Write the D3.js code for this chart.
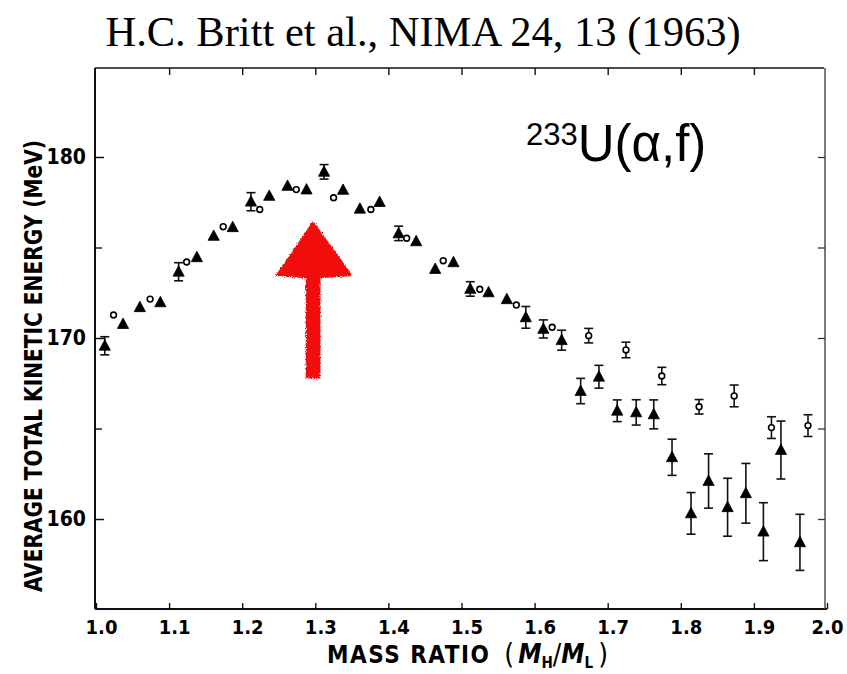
<!DOCTYPE html>
<html>
<head>
<meta charset="utf-8">
<script src="https://cdn.jsdelivr.net/npm/d3@7"></script>
<style>
  html, body { margin: 0; padding: 0; background: #fff; }
  svg { display: block; }
  .tick text { font-family: "DejaVu Sans Condensed", "DejaVu Sans", sans-serif; font-weight: bold; font-stretch: condensed; }
</style>
</head>
<body>
<script>
// Average total kinetic energy of fission fragments vs. mass ratio, 233U(alpha,f)

// Filled triangles
const triRatio  = [1.012, 1.037, 1.060, 1.088, 1.113, 1.138, 1.161, 1.187, 1.212, 1.237,
                   1.262, 1.288, 1.312, 1.338, 1.361, 1.388, 1.414, 1.438, 1.464, 1.489,
                   1.512, 1.537, 1.562, 1.588, 1.612, 1.637, 1.663, 1.688, 1.713, 1.739,
                   1.763, 1.788, 1.814, 1.838, 1.864, 1.889, 1.913, 1.937, 1.963];
const triEnergy = [169.57, 170.77, 171.70, 171.97, 173.66, 174.46, 175.64, 176.12, 177.53, 177.85,
                   178.40, 178.20, 179.18, 178.18, 177.14, 177.51, 175.78, 175.34, 173.81, 174.18,
                   172.71, 172.52, 172.14, 171.14, 170.50, 169.88, 167.07, 167.86, 165.98, 165.89,
                   165.78, 163.41, 160.31, 162.10, 160.65, 161.42, 159.30, 163.81, 158.71];
const triError  = [0.5, 0, 0, 0, 0.5, 0, 0, 0, 0.5, 0,
                   0, 0, 0.4, 0, 0, 0, 0.4, 0, 0, 0,
                   0.4, 0, 0, 0.6, 0.5, 0.55, 0.7, 0.63, 0.6, 0.7,
                   0.8, 1.0, 1.15, 1.5, 1.6, 1.65, 1.6, 1.6, 1.55];

// Open circles
const circRatio  = [1.024, 1.074, 1.124, 1.174, 1.224, 1.274, 1.325, 1.376, 1.425, 1.475,
                    1.525, 1.575, 1.624, 1.674, 1.725, 1.774, 1.825, 1.873, 1.924, 1.974];
const circEnergy = [171.27, 172.15, 174.20, 176.15, 177.10, 178.20, 177.75, 177.10, 175.51, 174.27,
                    172.69, 171.82, 170.59, 170.13, 169.34, 167.90, 166.20, 166.80, 165.05, 165.16];
const circError  = [0, 0, 0, 0, 0, 0, 0, 0, 0, 0,
                    0, 0, 0, 0.4, 0.43, 0.48, 0.4, 0.6, 0.6, 0.6];

// Axis ticks
const xTickValues = [1.0, 1.1, 1.2, 1.3, 1.4, 1.5, 1.6, 1.7, 1.8, 1.9, 2.0];
const yMajorTicks = [160, 170, 180];
const yMinorTicks = [165, 175];

// Arrow annotation in data units (tip, head base, shaft end)
const arrowRatio = 1.297;
const arrowEnergy = [176.4, 173.4, 167.8];

const W = 847, H = 674;
const svg = d3.select("body").append("svg").attr("width", W).attr("height", H);

const x = d3.scaleLinear().domain([1.0, 2.0]).range([96, 827]);
const y = d3.scaleLinear().domain([155, 185]).range([609.5, 66.5]);

const frameTop = 68, frameBottom = 609, frameLeft = 95, frameRight = 827;
const ink = "#111";
const condensed = "'DejaVu Sans Condensed', 'DejaVu Sans', sans-serif";

// Title
svg.append("text")
  .attr("x", 423).attr("y", 46)
  .attr("text-anchor", "middle")
  .attr("font-family", "'Liberation Serif', 'Times New Roman', serif")
  .attr("font-size", 42.5)
  .attr("fill", "#000")
  .text("H.C. Britt et al., NIMA 24, 13 (1963)");

// Frame
const frame = svg.append("g").attr("stroke", ink).attr("fill", "none");
frame.append("line").attr("x1", frameLeft).attr("x2", frameLeft).attr("y1", frameTop).attr("y2", frameBottom).attr("stroke-width", 2);
frame.append("line").attr("x1", frameLeft).attr("x2", frameRight).attr("y1", frameBottom).attr("y2", frameBottom).attr("stroke-width", 2);
frame.append("line").attr("x1", frameLeft).attr("x2", frameRight - 3).attr("y1", frameTop).attr("y2", frameTop).attr("stroke-width", 1.6);
frame.append("line").attr("x1", frameRight - 2).attr("x2", frameRight - 2).attr("y1", frameTop).attr("y2", frameBottom)
  .attr("stroke-width", 1.4).attr("stroke", "#444");

// Bottom axis, ticks pointing inward
const xAxis = d3.axisBottom(x).tickValues(xTickValues).tickSize(-6).tickPadding(0).tickFormat(d3.format(".1f"));
const gx = svg.append("g").attr("transform", `translate(0,${frameBottom})`).call(xAxis);
gx.select(".domain").remove();
gx.selectAll(".tick line").attr("stroke", ink).attr("stroke-width", 1.4);
gx.selectAll(".tick text").attr("font-size", 20).attr("fill", "#000")
  .attr("y", 25).attr("dy", 0)
  .attr("dx", d => d === 2.0 ? 0 : 5);

// Top axis ticks
const xTop = d3.axisTop(x).tickValues(xTickValues.slice(1, -1)).tickSize(-7).tickFormat("");
const gxt = svg.append("g").attr("transform", `translate(0,${frameTop})`).call(xTop);
gxt.select(".domain").remove();
gxt.selectAll(".tick line").attr("stroke", ink).attr("stroke-width", 1.4);

// Left axis, labelled major ticks plus minor ticks
const yAxis = d3.axisLeft(y).tickValues(yMajorTicks).tickSize(-9).tickFormat(d3.format("d"));
const gy = svg.append("g").attr("transform", `translate(${frameLeft},0)`).call(yAxis);
gy.select(".domain").remove();
gy.selectAll(".tick line").attr("stroke", ink).attr("stroke-width", 1.5);
gy.selectAll(".tick text").attr("font-size", 21).attr("fill", "#000").attr("x", -9);
const gyMinor = svg.append("g").attr("transform", `translate(${frameLeft},0)`)
  .call(d3.axisLeft(y).tickValues(yMinorTicks).tickSize(-7).tickFormat(""));
gyMinor.select(".domain").remove();
gyMinor.selectAll(".tick line").attr("stroke", ink).attr("stroke-width", 1.4);

// Right axis ticks
const gyr = svg.append("g").attr("transform", `translate(${frameRight - 2},0)`)
  .call(d3.axisRight(y).tickValues(yMajorTicks.concat(yMinorTicks)).tickSize(-7).tickFormat(""));
gyr.select(".domain").remove();
gyr.selectAll(".tick line").attr("stroke", "#333").attr("stroke-width", 1.3);

// Axis titles
svg.append("text")
  .attr("transform", "translate(42,366) rotate(-90)")
  .attr("text-anchor", "middle")
  .attr("font-family", condensed)
  .attr("font-weight", "bold")
  .attr("font-size", 24)
  .attr("textLength", 452).attr("lengthAdjust", "spacingAndGlyphs")
  .attr("fill", "#000")
  .text("AVERAGE TOTAL KINETIC ENERGY (MeV)");

const xt = svg.append("text")
  .attr("x", 327).attr("y", 663)
  .attr("font-family", condensed)
  .attr("font-weight", "bold")
  .attr("font-size", 24)
  .attr("fill", "#000");
xt.append("tspan").attr("letter-spacing", 1.5).text("MASS RATIO ");
xt.append("tspan").attr("font-size", 28).attr("font-weight", "normal").attr("dy", 1).attr("dx", 5).text("(");
xt.append("tspan").attr("font-style", "italic").attr("font-size", 26).attr("dy", -1).attr("dx", 4).text("M");
xt.append("tspan").attr("font-size", 15).attr("dy", 5).text("H");
xt.append("tspan").attr("font-size", 28).attr("font-weight", "normal").attr("dy", -4).text("/");
xt.append("tspan").attr("font-style", "italic").attr("font-size", 26).attr("dy", -1).text("M");
xt.append("tspan").attr("font-size", 15).attr("dy", 5).text("L");
xt.append("tspan").attr("font-size", 28).attr("font-weight", "normal").attr("dy", -4).attr("dx", 5).text(")");

// Reaction label
const rl = svg.append("text")
  .attr("x", 526).attr("y", 161)
  .attr("font-family", "'Liberation Sans', Arial, Helvetica, sans-serif")
  .attr("fill", "#000");
rl.append("tspan").attr("font-size", 31).attr("dy", -16).text("233");
rl.append("tspan").attr("font-size", 51).attr("dy", 16).text("U(\u03b1,f)");

// Data: error bars, triangles, circles
const tri = triRatio.map((r, i) => ({ r, e: triEnergy[i], err: triError[i] }));
const circ = circRatio.map((r, i) => ({ r, e: circEnergy[i], err: circError[i] }));

function errorBars(data, cls) {
  const g = svg.append("g").attr("class", cls).attr("stroke", ink).attr("stroke-width", 1.6);
  const withErr = data.filter(d => d.err > 0);
  g.selectAll("line.v").data(withErr).join("line").attr("class", "v")
    .attr("x1", d => x(d.r)).attr("x2", d => x(d.r))
    .attr("y1", d => y(d.e + d.err)).attr("y2", d => y(d.e - d.err));
  g.selectAll("line.t").data(withErr).join("line").attr("class", "t")
    .attr("x1", d => x(d.r) - 4.5).attr("x2", d => x(d.r) + 4.5)
    .attr("y1", d => y(d.e + d.err)).attr("y2", d => y(d.e + d.err));
  g.selectAll("line.b").data(withErr).join("line").attr("class", "b")
    .attr("x1", d => x(d.r) - 4.5).attr("x2", d => x(d.r) + 4.5)
    .attr("y1", d => y(d.e - d.err)).attr("y2", d => y(d.e - d.err));
}
errorBars(tri, "tri-err");
errorBars(circ, "circ-err");

svg.append("g").selectAll("path").data(tri).join("path")
  .attr("transform", d => `translate(${x(d.r)},${y(d.e)})`)
  .attr("d", "M0,-6L5.6,4.4L-5.6,4.4Z")
  .attr("fill", "#000").attr("stroke", "#000").attr("stroke-width", 0.8).attr("stroke-linejoin", "round");

svg.append("g").selectAll("circle").data(circ).join("circle")
  .attr("cx", d => x(d.r)).attr("cy", d => y(d.e)).attr("r", 2.9)
  .attr("fill", "#fff").attr("stroke", "#000").attr("stroke-width", 1.6);

// Red hand-drawn arrow
const defs = svg.append("defs");
const f = defs.append("filter").attr("id", "crayon").attr("x", "-10%").attr("y", "-10%").attr("width", "120%").attr("height", "120%");
f.append("feTurbulence").attr("type", "fractalNoise").attr("baseFrequency", 0.9).attr("numOctaves", 2).attr("seed", 3).attr("result", "noise");
f.append("feDisplacementMap").attr("in", "SourceGraphic").attr("in2", "noise").attr("scale", 4)
  .attr("xChannelSelector", "R").attr("yChannelSelector", "G");

const ax = x(arrowRatio);
const [tipE, baseE, endE] = arrowEnergy;
const headHalf = x(arrowRatio + 0.05) - ax;
const shaftHalf = x(arrowRatio + 0.009) - ax;
const arrowPath = d3.path();
arrowPath.moveTo(ax, y(tipE));
arrowPath.lineTo(ax + headHalf + 2, y(baseE) - 1);
arrowPath.lineTo(ax + shaftHalf, y(baseE) + 1);
arrowPath.lineTo(ax + shaftHalf, y(endE));
arrowPath.lineTo(ax - shaftHalf, y(endE));
arrowPath.lineTo(ax - shaftHalf, y(baseE) + 1);
arrowPath.lineTo(ax - headHalf, y(baseE) - 1);
arrowPath.closePath();
svg.append("path").attr("d", arrowPath.toString())
  .attr("fill", "#f20d0d").attr("stroke", "#f20d0d").attr("stroke-width", 1.5)
  .attr("filter", "url(#crayon)");
</script>
</body>
</html>
